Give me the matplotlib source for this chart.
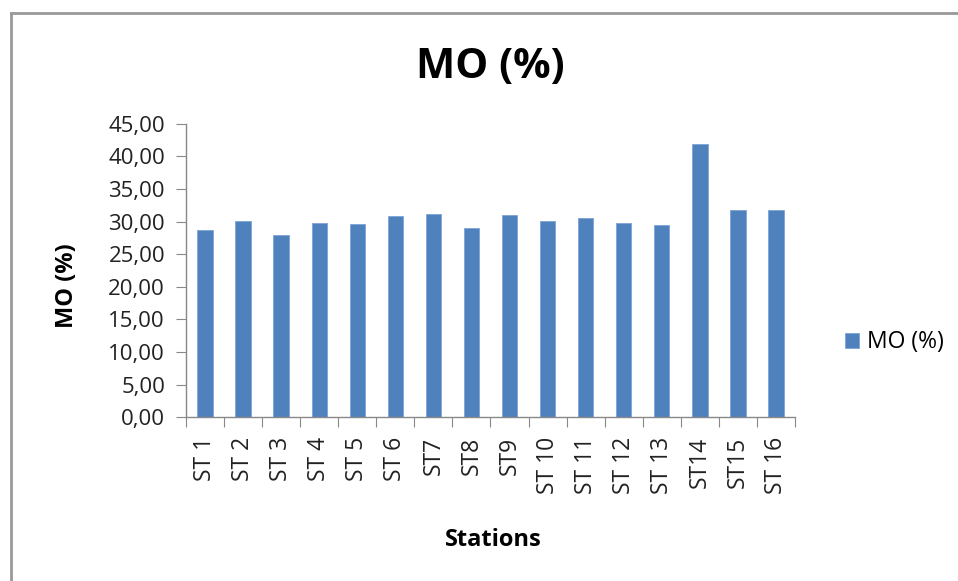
import matplotlib
matplotlib.use('Agg')
import matplotlib.pyplot as plt
from matplotlib.lines import Line2D
from matplotlib.ticker import FuncFormatter, MultipleLocator

plt.rcParams['font.family'] = ['Open Sans', 'DejaVu Sans']

stations = ['ST 1', 'ST 2', 'ST 3', 'ST 4', 'ST 5', 'ST 6', 'ST7', 'ST8', 'ST9',
            'ST 10', 'ST 11', 'ST 12', 'ST 13', 'ST14', 'ST15', 'ST 16']
mo = [28.7, 30.1, 27.9, 29.8, 29.7, 30.8, 31.2, 29.0, 31.0,
      30.1, 30.6, 29.8, 29.5, 41.9, 31.7, 31.7]

fig = plt.figure(figsize=(9.58, 5.81), dpi=100)
ax = fig.add_axes([0.194, 0.282, 0.636, 0.505])

# Barres
x = list(range(len(stations)))
ax.bar(x, mo, width=0.4, color='#4f81bd', edgecolor='#7da3d6', linewidth=0.6,
       label='MO (%)')

ax.set_xlim(-0.5, len(stations) - 0.5)
ax.set_ylim(0, 45)
ax.yaxis.set_major_locator(MultipleLocator(5))
ax.yaxis.set_major_formatter(FuncFormatter(lambda v, p: f'{v:.2f}'.replace('.', ',')))

# Ticks entre les catégories, comme Excel
ax.set_xticks([i + 0.5 for i in range(-1, len(stations))], minor=False)
ax.set_xticklabels([])
ax.set_xticks(x, minor=True)
ax.set_xticklabels(stations, minor=True, rotation=90, fontsize=16.5, color='#222222')
ax.tick_params(axis='x', which='minor', length=0, pad=14)
ax.tick_params(axis='x', which='major', length=7, color='#888888')
ax.tick_params(axis='y', length=7, color='#888888', labelsize=16, labelcolor='#222222', pad=8)

for side in ['top', 'right']:
    ax.spines[side].set_visible(False)
for side in ['left', 'bottom']:
    ax.spines[side].set_color('#888888')
    ax.spines[side].set_linewidth(1.0)

ax.set_ylabel('MO (%)', fontsize=17, fontweight='bold', va='center')
ax.yaxis.set_label_coords(-0.195, 0.45)
ax.set_xlabel('Stations', fontsize=17, fontweight='bold', va='center')
ax.xaxis.set_label_coords(0.505, -0.42)
fig.text(0.512, 0.883, 'MO (%)', fontsize=30, fontweight='bold', ha='center', va='center')

ax.legend(loc='center left', bbox_to_anchor=(1.048, 0.255), frameon=False,
          fontsize=16.5, handlelength=0.6, handleheight=0.6, handletextpad=0.35)

# Cadre gris du graphique
fig.add_artist(Line2D([0.011, 0.011], [0.0, 0.977], color='#999999', linewidth=2))
fig.add_artist(Line2D([0.011, 1.0], [0.977, 0.977], color='#999999', linewidth=2))

fig.savefig('out.png', dpi=100, facecolor='white')
